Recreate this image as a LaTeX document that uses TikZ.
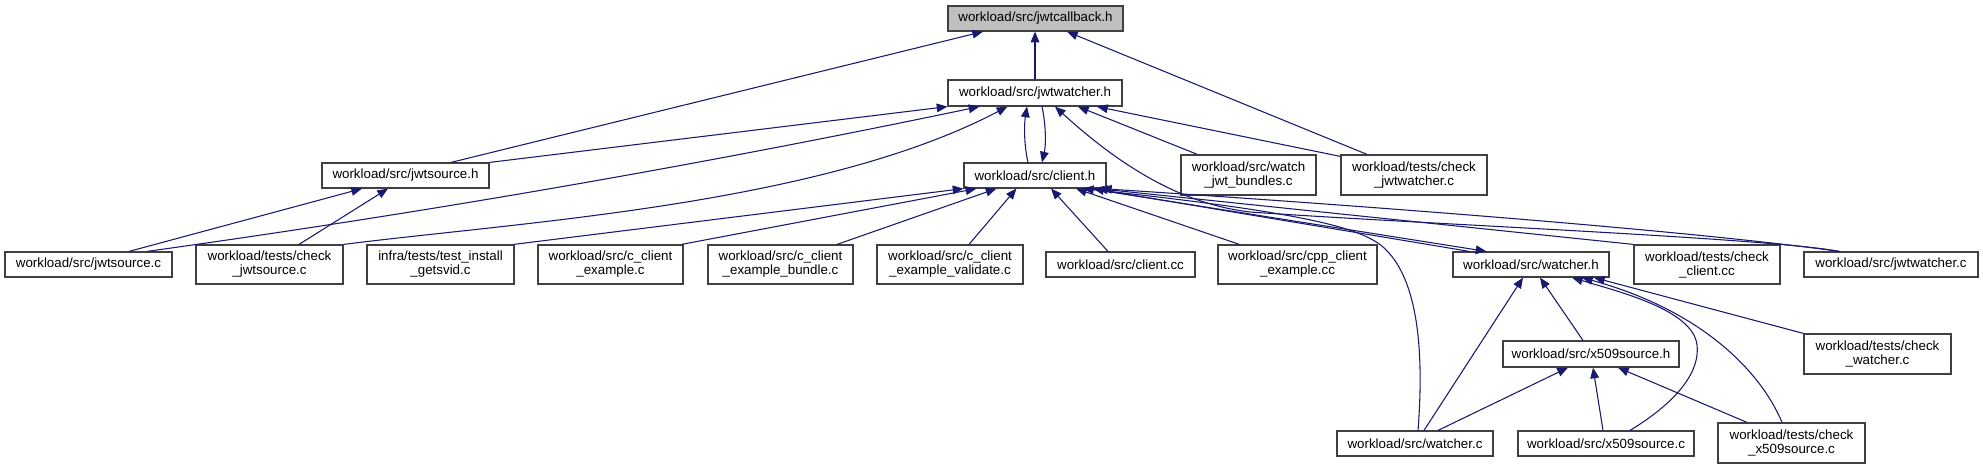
\documentclass[tikz,border=0pt]{standalone}
\usepackage{fontspec}
\setmainfont{Liberation Sans}
\usetikzlibrary{arrows.meta,calc}
\definecolor{edgec}{HTML}{191970}
\definecolor{cbfill}{HTML}{BFBFBF}
\definecolor{bordc}{HTML}{404040}
\begin{document}
\begin{tikzpicture}[x=0.75pt,y=-0.75pt,
  nd/.style={draw=bordc, line width=0.9pt, fill=white, inner sep=0pt, align=center, font=\fontsize{10}{10.5}\selectfont},
  sz/.style 2 args={minimum width=#1*0.75pt, minimum height=#2*0.75pt},
  ed/.style={draw=edgec, line width=0.8pt, -{Triangle[length=8pt,width=6.5pt]}},
]
\fill[white] (0,0) rectangle (1983,469);
\useasboundingbox (0,0) rectangle (1983,469);

% ---- nodes ----
\node[nd, sz={175}{25}, fill=cbfill] (cb) at (1035.5,18.5) {workload/src/jwtcallback.h};
\node[nd, sz={174}{26}] (jw) at (1035,93) {workload/src/jwtwatcher.h};
\node[nd, sz={167}{25}] (jsh) at (405.5,175.5) {workload/src/jwtsource.h};
\node[nd, sz={142}{25}] (ch) at (1035,175.5) {workload/src/client.h};
\node[nd, sz={135}{40}] (wjb) at (1248.5,175) {workload/src/watch\\\_jwt\_bundles.c};
\node[nd, sz={146}{40}] (cjw) at (1414,175) {workload/tests/check\\\_jwtwatcher.c};
\node[nd, sz={167}{25}] (jsc) at (88.5,264.5) {workload/src/jwtsource.c};
\node[nd, sz={147}{39}] (cjs) at (269.5,264.5) {workload/tests/check\\\_jwtsource.c};
\node[nd, sz={147}{39}] (tig) at (440.5,264.5) {infra/tests/test\_install\\\_getsvid.c};
\node[nd, sz={145}{39}] (cce) at (610.5,264.5) {workload/src/c\_client\\\_example.c};
\node[nd, sz={145}{39}] (cceb) at (780.5,264.5) {workload/src/c\_client\\\_example\_bundle.c};
\node[nd, sz={146}{39}] (ccev) at (950,264.5) {workload/src/c\_client\\\_example\_validate.c};
\node[nd, sz={149}{25}] (ccc) at (1120.5,264.5) {workload/src/client.cc};
\node[nd, sz={159}{39}] (cpp) at (1297.5,264.5) {workload/src/cpp\_client\\\_example.cc};
\node[nd, sz={156}{25}] (wh) at (1531,264.5) {workload/src/watcher.h};
\node[nd, sz={146}{39}] (ccl) at (1707,264.5) {workload/tests/check\\\_client.cc};
\node[nd, sz={174}{25}] (jwc) at (1891,264.5) {workload/src/jwtwatcher.c};
\node[nd, sz={176}{26}] (xsh) at (1591,354) {workload/src/x509source.h};
\node[nd, sz={147}{40}] (cw) at (1877.5,354) {workload/tests/check\\\_watcher.c};
\node[nd, sz={156}{25}] (wc) at (1415,443.5) {workload/src/watcher.c};
\node[nd, sz={176}{25}] (xsc) at (1606,443.5) {workload/src/x509source.c};
\node[nd, sz={147}{40}] (cxs) at (1791.5,443) {workload/tests/check\\\_x509source.c};

% ---- edges into jwtcallback.h ----
\draw[ed] ($(jsh.north)+(45.5,0)$) -- ($(cb.south)+(-52.5,0)$);
\draw[ed] (jw.north) -- ($(cb.south)+(-0.5,0)$);
\draw[ed] ($(cjw.north)+(-47,0)$) -- ($(cb.south)+(31.5,0)$);

% ---- edges into jwtwatcher.h ----
\draw[ed] (jsh.north east) -- (jw.south west);
\draw[ed] ($(jsc.north)+(58.5,0)$) .. controls (430,212) and (700,165) .. ($(jw.south west)+(32,0)$);
\draw[ed] (cjs.north east) .. controls (520,222) and (820,205) .. ($(jw.south west)+(60,0)$);
\draw[ed] ($(ch.north)+(-7,0)$) .. controls (1024,145) and (1024,125) .. ($(jw.south)+(-8,0)$);
\draw[ed] ($(jw.south)+(7,0)$) .. controls (1046,125) and (1046,145) .. ($(ch.north)+(7,0)$);
\draw[ed] ($(jwc.north west)+(36,0)$) .. controls (1770,238) and (1420,224) .. (1250,212)
          .. controls (1190,205) and (1130,175) .. ($(jw.south)+(20,0)$);
\draw[ed] ($(wjb.north west)+(17,0)$) -- ($(jw.south)+(43,0)$);
\draw[ed] ($(cjw.north west)+(0,2)$) -- ($(jw.south)+(62,0)$);

% ---- edges into jwtsource.h ----
\draw[ed] ($(jsc.north)+(40.5,0)$) -- ($(jsh.south)+(-43.5,0)$);
\draw[ed] ($(cjs.north)+(29.5,0)$) -- ($(jsh.south)+(-17.5,0)$);

% ---- edges into client.h ----
\draw[ed] ($(tig.north east)+(-1,0)$) -- (ch.south west);
\draw[ed] ($(cce.north east)+(-2,0)$) -- ($(ch.south west)+(13,0)$);
\draw[ed] ($(cceb.north)+(56.5,0)$) -- ($(ch.south west)+(33,0)$);
\draw[ed] ($(ccev.north)+(19,0)$) -- ($(ch.south west)+(53,0)$);
\draw[ed] ($(ccc.north)+(-12.5,0)$) -- ($(ch.south)+(16,0)$);
\draw[ed] ($(cpp.north west)+(22,0)$) -- ($(ch.south)+(41,0)$);
\draw[ed] ($(wc.north)+(3,0)$) .. controls (1425,340) and (1415,275) .. (1383,247)
          .. controls (1360,227) and (1300,212) .. ($(ch.south)+(48,0)$);
\draw[ed] ($(wh.north west)+(17,0)$) -- ($(ch.south)+(58,0)$);
\draw[ed] (ccl.north west) -- ($(ch.south)+(62,0)$);
\draw[ed] ($(jwc.north west)+(36,0)$) .. controls (1700,232) and (1400,208) .. ($(ch.south)+(66,0)$);

% ---- edges into watcher.h ----
\draw[ed] ($(ch.south)+(54,0)$) -- ($(wh.north west)+(34,0)$);
\draw[ed] ($(wc.north)+(9,0)$) -- ($(wh.south)+(-8,0)$);
\draw[ed] ($(xsh.north)+(-8,0)$) -- ($(wh.south)+(9,0)$);
\draw[ed] ($(xsc.north)+(24,0)$) .. controls (1680,400) and (1700,370) .. (1697,345)
          .. controls (1693,310) and (1620,292) .. ($(wh.south)+(41,0)$);
\draw[ed] ($(cxs.north)+(-9.5,0)$) .. controls (1760,370) and (1700,310) .. ($(wh.south)+(51,0)$);
\draw[ed] (cw.north west) -- ($(wh.south)+(63,0)$);

% ---- edges into x509source.h ----
\draw[ed] ($(wc.north)+(23,0)$) -- ($(xsh.south)+(-23,0)$);
\draw[ed] ($(xsc.north)+(-3,0)$) -- ($(xsh.south)+(2,0)$);
\draw[ed] ($(cxs.north)+(-44.5,0)$) -- ($(xsh.south)+(27,0)$);
\end{tikzpicture}
\end{document}
